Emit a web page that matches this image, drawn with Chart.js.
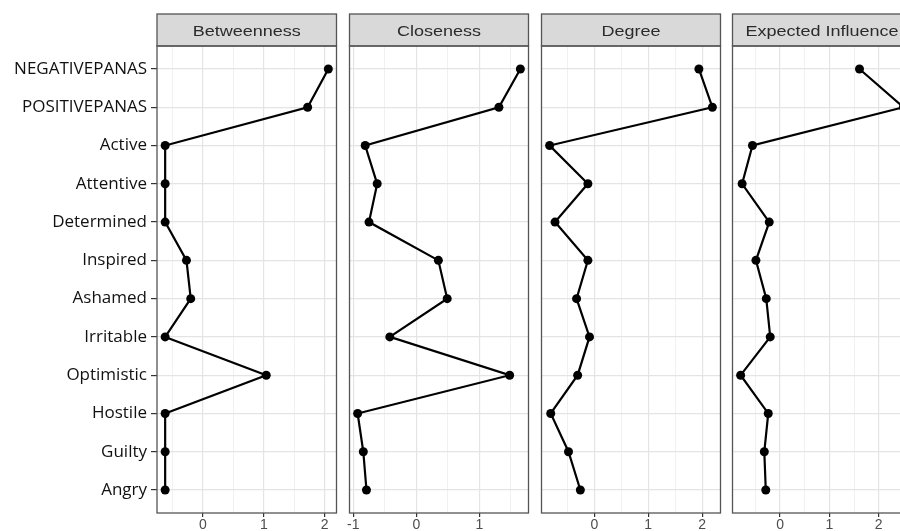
<!DOCTYPE html>
<html>
<head>
<meta charset="utf-8">
<script src="https://cdn.jsdelivr.net/npm/chart.js@4"></script>
<style>
  html, body { margin: 0; padding: 0; background: #fff; width: 900px; height: 531px; overflow: hidden; }
  canvas { position: absolute; top: 0; }
</style>
</head>
<body>
<canvas id="c0"></canvas>
<canvas id="c1"></canvas>
<canvas id="c2"></canvas>
<canvas id="c3"></canvas>
<script>
// nodos (de arriba a abajo)
const nodes = ['NEGATIVEPANAS', 'POSITIVEPANAS', 'Active', 'Attentive', 'Determined', 'Inspired',
  'Ashamed', 'Irritable', 'Optimistic', 'Hostile', 'Guilty', 'Angry'];

// valores de centralidad (z-scores)
const betweenness = [2.06, 1.72, -0.62, -0.62, -0.62, -0.27, -0.20, -0.62, 1.04, -0.62, -0.62, -0.62];
const closeness = [1.65, 1.31, -0.81, -0.62, -0.75, 0.35, 0.49, -0.42, 1.48, -0.93, -0.84, -0.79];
const degree = [1.94, 2.19, -0.83, -0.12, -0.73, -0.12, -0.33, -0.09, -0.31, -0.81, -0.48, -0.26];
const expectedInfluence = [1.61, 2.50, -0.56, -0.77, -0.22, -0.49, -0.28, -0.20, -0.80, -0.24, -0.32, -0.29];

const titles = ['Betweenness', 'Closeness', 'Degree', 'Expected Influence'];
const series = [betweenness, closeness, degree, expectedInfluence];

// posicion de cada panel en la pagina
const plotLeft = [157, 349, 541, 732];
const plotWidth = 180;

// tira gris con el titulo y marco del panel (estilo ggplot theme_bw)
const facetFrame = {
  id: 'facetFrame',
  afterDraw(chart, args, opts) {
    const { ctx, chartArea: a } = chart;
    ctx.save();
    ctx.fillStyle = '#d9d9d9';
    ctx.fillRect(a.left, 14, a.right - a.left, a.top - 14);
    ctx.strokeStyle = '#555';
    ctx.lineWidth = 1.3;
    ctx.strokeRect(a.left, 14, a.right - a.left, a.top - 14);
    ctx.strokeRect(a.left, a.top, a.right - a.left, a.bottom - a.top);
    ctx.translate((a.left + a.right) / 2, 36);
    ctx.scale(1.2, 1);
    ctx.font = '15px "Liberation Sans", Arial, sans-serif';
    ctx.fillStyle = '#2b2b2b';
    ctx.textAlign = 'center';
    ctx.textBaseline = 'alphabetic';
    ctx.fillText(opts.title, 0, 0);
    ctx.restore();
  }
};

const isMajor = v => Math.abs(v - Math.round(v)) < 1e-9;

series.forEach(function(values, k) {
  const first = k === 0;
  const padL = first ? 0 : 4;
  const axisW = first ? 157 : 0;
  const canvas = document.getElementById('c' + k);
  canvas.width = axisW + padL + plotWidth + 4;
  canvas.height = 545;
  canvas.style.left = (plotLeft[k] - axisW - padL) + 'px';

  // rango del eje como ggplot: +-5% del rango de los datos
  const lo = Math.min(...values), hi = Math.max(...values);
  const xmin = lo - (hi - lo) * 0.05;
  const xmax = hi + (hi - lo) * 0.05;

  new Chart(canvas.getContext('2d'), {
    type: 'line',
    data: {
      datasets: [{
        data: values.map((v, i) => ({ x: v, y: i })),
        borderColor: '#000',
        borderWidth: 2.2,
        pointRadius: 4.5,
        pointBackgroundColor: '#000',
        pointBorderColor: '#000',
        pointBorderWidth: 0,
        tension: 0,
        clip: false
      }]
    },
    options: {
      responsive: false,
      animation: false,
      layout: { padding: { top: 46, left: padL, right: 4, bottom: 0 } },
      plugins: {
        legend: { display: false },
        tooltip: { enabled: false },
        facetFrame: { title: titles[k] }
      },
      scales: {
        x: {
          type: 'linear',
          position: 'bottom',
          min: xmin,
          max: xmax,
          afterBuildTicks: s => {
            const t = [];
            for (let v = Math.ceil(xmin * 2) / 2; v <= xmax; v += 0.5) t.push({ value: v });
            s.ticks = t;
          },
          afterFit: s => { s.height = 32; s.paddingLeft = 0; s.paddingRight = 0; },
          border: { display: false },
          grid: {
            color: c => isMajor(c.tick.value) ? '#e4e4e4' : '#f1f1f1',
            lineWidth: c => isMajor(c.tick.value) ? 1.2 : 1,
            tickColor: c => isMajor(c.tick.value) ? '#333' : 'rgba(0,0,0,0)',
            tickLength: 4
          },
          ticks: {
            autoSkip: false,
            maxRotation: 0,
            padding: 0,
            color: '#4d4d4d',
            font: { family: '"Liberation Sans", Arial, sans-serif', size: 14 },
            callback: v => isMajor(v) ? String(Math.round(v)) : ''
          }
        },
        y: {
          type: 'linear',
          reverse: true,
          min: -0.6,
          max: 11.6,
          afterBuildTicks: s => { s.ticks = nodes.map((n, i) => ({ value: i })); },
          afterFit: s => { s.width = axisW; s.paddingTop = 0; s.paddingBottom = 0; },
          border: { display: false },
          grid: {
            color: '#e4e4e4',
            lineWidth: 1.2,
            drawTicks: first,
            tickColor: '#333',
            tickLength: 6
          },
          ticks: {
            display: first,
            autoSkip: false,
            padding: 4,
            color: '#111',
            font: { family: '"Open Sans", sans-serif', size: 17 },
            callback: v => nodes[v]
          }
        }
      }
    },
    plugins: [facetFrame]
  });
});
</script>
</body>
</html>
